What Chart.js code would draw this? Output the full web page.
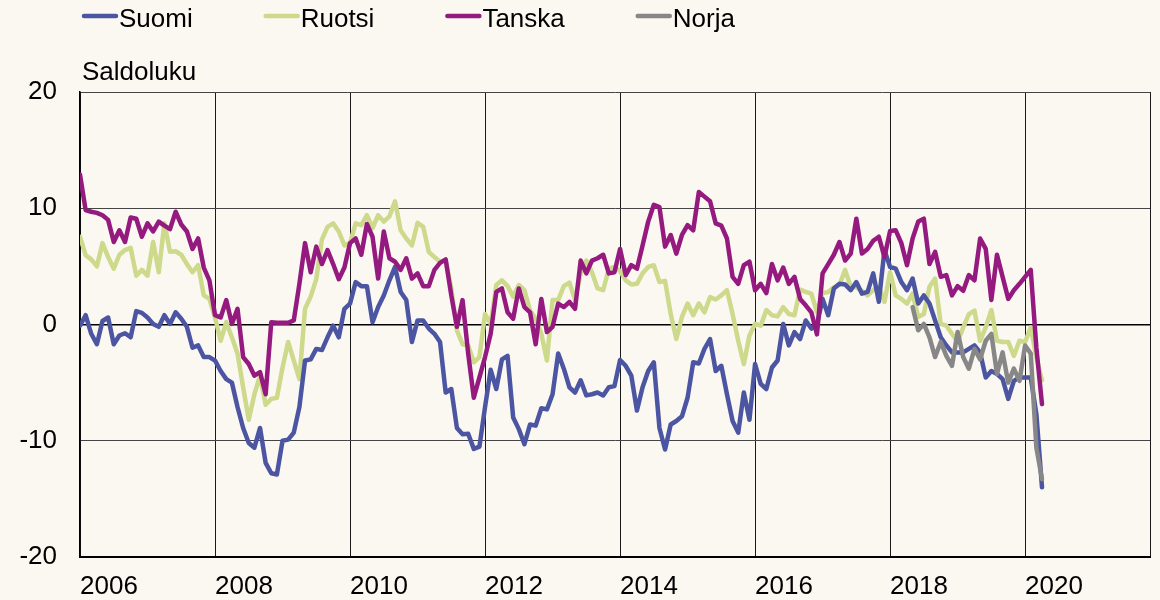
<!DOCTYPE html>
<html>
<head>
<meta charset="utf-8">
<script src="https://cdn.jsdelivr.net/npm/chart.js@4"></script>
<style>
  html, body { margin: 0; padding: 0; background: #fbf7f1; }
  #wrap { width: 1160px; height: 600px; }
</style>
</head>
<body>
<div id="wrap"><canvas id="chart" width="1160" height="600"></canvas></div>
<script>
// Kuukausittaiset saldoluvut, alkaen 2006-01
const startYear = 2006;
const norjaStart = 2018 + 4 / 12; // 2018-05
const xMax = 2021.85;
const xTickYears = [2006, 2008, 2010, 2012, 2014, 2016, 2018, 2020];
const yTicks = [-20, -10, 0, 10, 20];

const suomi = [
  -0.1, 0.8, -0.8, -1.7, 0.3, 0.6, -1.7, -0.95, -0.75, -1.1, 1.15, 1.0,
  0.6, 0.05, -0.2, 0.8, 0.05, 1.05, 0.5, -0.2, -2.0, -1.8, -2.8, -2.8,
  -3.1, -4.0, -4.7, -5.0, -7.1, -8.9, -10.2, -10.6, -8.9, -11.9, -12.8, -12.9,
  -10.0, -9.9, -9.3, -7.1, -3.1, -3.0, -2.1, -2.2, -1.1, -0.1, -1.1, 1.35,
  1.8, 3.65, 3.3, 3.3, 0.2, 1.5, 2.5, 3.8, 4.95, 2.8, 2.1, -1.5,
  0.35, 0.35, -0.35, -0.8, -1.5, -5.85, -5.55, -8.9, -9.45, -9.4, -10.7, -10.5,
  -7.1, -3.9, -5.55, -3.0, -2.7, -8.0, -9.0, -10.3, -8.6, -8.7, -7.2, -7.3,
  -6.0, -2.5, -3.8, -5.4, -5.85, -4.8, -6.1, -6.0, -5.85, -6.1, -5.4, -5.3,
  -3.05, -3.55, -4.4, -7.4, -5.4, -4.0, -3.25, -8.9, -10.75, -8.6, -8.3, -7.9,
  -6.3, -3.25, -3.35, -2.1, -1.25, -4.0, -3.55, -6.0, -8.3, -9.3, -5.85, -8.2,
  -3.4, -5.1, -5.55, -3.7, -3.1, 0.05, -1.8, -0.65, -1.25, 0.35, -0.35, 0.0,
  2.2, 0.8, 3.1, 3.5, 3.45, 2.95, 3.65, 2.65, 2.8, 4.4, 1.95, 6.4,
  4.95, 4.8, 3.65, 2.95, 3.95, 1.8, 2.5, 1.8, 0.35, -1.1, -1.8, -2.4,
  -2.4, -2.4, -2.1, -1.8, -2.4, -4.55, -4.0, -4.25, -4.7, -6.4, -4.85, -4.55,
  -4.55, -4.55, -7.7, -14.0
];

const ruotsi = [
  7.55, 5.97, 5.6, 5.0, 7.0, 5.8, 4.8, 6.0, 6.4, 6.6, 4.2, 4.7,
  4.2, 7.1, 4.5, 8.7, 6.25, 6.3, 6.0, 5.2, 4.5, 5.1, 2.5, 2.2,
  0.6, -1.4, 0.2, -1.1, -2.5, -5.4, -8.2, -6.0, -4.4, -6.9, -6.4, -6.3,
  -3.7, -1.5, -3.1, -4.7, 1.35, 2.4, 3.9, 7.3, 8.4, 8.7, 8.0, 6.8,
  7.0, 8.7, 8.55, 9.4, 8.3, 9.4, 8.85, 9.3, 10.6, 8.1, 7.4, 6.8,
  8.75, 8.4, 6.25, 5.8, 5.4, 5.5, 3.1, -0.5, -1.7, -1.8, -3.25, -2.8,
  0.9, 0.05, 3.4, 3.8, 3.3, 2.4, 3.4, 2.95, 1.2, 0.5, -0.8, -3.1,
  2.1, 2.1, 3.3, 3.6, 2.1, 4.4, 5.5, 4.5, 3.1, 2.95, 4.8, 4.95,
  4.6, 3.8, 3.45, 3.5, 4.4, 4.95, 5.1, 3.65, 3.75, 0.9, -1.25, 0.65,
  1.8, 0.8, 1.8, 1.05, 2.35, 2.15, 2.5, 2.95, 0.9, -1.4, -3.4, -0.95,
  0.05, -0.1, 1.25, 0.8, 0.7, 1.5, 0.9, 0.8, 3.0, 2.8, 2.65, 1.05,
  2.7, 2.8, 3.2, 3.4, 4.7, 3.25, 3.2, 2.9, 2.5, 2.95, 3.25, 1.95,
  4.5, 2.5, 2.2, 1.8, 2.65, 0.65, 0.9, 3.25, 3.95, 0.05, -0.1, -0.8,
  -1.5, -0.25, 0.9, 1.2, -1.4, -0.25, 1.25, -1.4, -1.5, -1.5, -2.7, -1.4,
  -1.5, -0.25, -2.8, -4.8
];

const tanska = [
  12.9, 9.85, 9.7, 9.6, 9.4, 9.0, 7.1, 8.1, 7.1, 9.2, 9.1, 7.55,
  8.7, 8.0, 8.85, 8.5, 8.2, 9.7, 8.6, 8.0, 6.5, 7.4, 4.9, 3.8,
  0.8, 0.6, 2.1, 0.05, 1.35, -2.8, -3.4, -4.4, -4.1, -6.0, 0.2, 0.15,
  0.15, 0.15, 0.35, 3.5, 7.0, 4.5, 6.7, 5.2, 6.4, 5.2, 3.9, 4.9,
  7.0, 7.4, 6.0, 8.65, 7.55, 3.95, 8.0, 5.7, 5.4, 4.7, 5.7, 3.95,
  4.4, 3.3, 3.3, 4.7, 5.3, 5.6, 2.5, -0.2, 2.1, -2.5, -6.3, -4.55,
  -2.8, -0.8, 2.8, 3.1, 1.05, 0.5, 3.1, 1.5, 1.05, -1.7, 2.2, -0.65,
  -0.2, 1.8, 1.5, 1.95, 1.35, 5.5, 4.4, 5.5, 5.7, 6.0, 4.4, 4.5,
  6.5, 4.25, 5.1, 4.8, 6.8, 8.85, 10.3, 10.1, 6.7, 7.7, 6.1, 7.7,
  8.55, 8.1, 11.4, 11.0, 10.6, 8.7, 8.5, 7.4, 4.1, 3.5, 5.1, 5.4,
  2.95, 3.5, 2.7, 5.2, 3.8, 4.9, 3.5, 4.1, 2.2, 1.65, 1.05, -0.85,
  4.4, 5.2, 6.0, 7.1, 5.5, 6.1, 9.1, 6.1, 6.5, 7.2, 7.55, 5.8,
  8.05, 8.1, 7.0, 5.1, 7.4, 8.85, 9.1, 5.2, 6.25, 4.1, 4.25, 2.5,
  3.3, 2.9, 4.25, 3.8, 7.4, 6.5, 2.1, 6.0, 4.1, 2.2, 2.95, 3.5,
  4.1, 4.7, -2.0, -6.85
];

// Norja alkaa 2018-05
const norja = [
  1.5, -0.5, 0.05, -1.1, -2.8, -1.5, -2.7, -3.55,
  -0.65, -2.8, -3.8, -2.1, -3.0, -1.4, -0.8, -4.25, -2.4, -5.0, -3.8, -4.85,
  -1.8, -2.5, -10.6, -13.3
];

const FONT = { family: '"Liberation Sans", Arial, sans-serif', size: 26 };

function toPoints(values, start) {
  return values.map((v, i) => ({ x: start + i / 12, y: v }));
}

// Selite ja y-akselin otsikko yläreunaan
const topLegend = {
  id: 'topLegend',
  afterDraw(chart) {
    const ctx = chart.ctx;
    ctx.save();
    ctx.font = FONT.size + 'px ' + FONT.family;
    ctx.fillStyle = '#000';
    ctx.textBaseline = 'alphabetic';
    let x = 82;
    chart.data.datasets.forEach(ds => {
      ctx.strokeStyle = ds.borderColor;
      ctx.lineWidth = 4.5;
      ctx.lineCap = 'round';
      ctx.beginPath();
      ctx.moveTo(x + 2, 16);
      ctx.lineTo(x + 34, 16);
      ctx.stroke();
      ctx.fillText(ds.label, x + 37, 27);
      x += 37 + ctx.measureText(ds.label).width + 71;
    });
    ctx.fillText('Saldoluku', 82, 80);
    ctx.restore();
  }
};

const line = (label, data, color, order) => ({
  label, data, order,
  borderColor: color,
  borderWidth: 4.5,
  pointRadius: 0,
  borderJoinStyle: 'round',
  borderCapStyle: 'round',
  fill: false,
  tension: 0
});

new Chart(document.getElementById('chart'), {
  type: 'line',
  data: {
    datasets: [
      line('Suomi', toPoints(suomi, startYear), '#4b55a2', 2),
      line('Ruotsi', toPoints(ruotsi, startYear), '#cdd98b', 3),
      line('Tanska', toPoints(tanska, startYear), '#951a7f', 1),
      line('Norja', toPoints(norja, norjaStart), '#878787', 0)
    ]
  },
  options: {
    responsive: false,
    animation: false,
    layout: { padding: { top: 92, right: 10, left: 0, bottom: 0 } },
    plugins: { legend: { display: false }, tooltip: { enabled: false } },
    scales: {
      x: {
        type: 'linear',
        min: startYear,
        max: xMax,
        afterBuildTicks: s => {
          s.ticks = xTickYears.map(v => ({ value: v })).concat([{ value: xMax }]);
        },
        afterFit: s => { s.height = 43; },
        ticks: {
          align: 'start',
          maxRotation: 0,
          autoSkip: false,
          padding: 10,
          color: '#000',
          font: { ...FONT, lineHeight: 1.5 },
          callback: v => (xTickYears.includes(v) ? String(v) : '')
        },
        grid: { color: '#1a1a1a', lineWidth: 1, drawTicks: false },
        border: { color: '#000', width: 2 }
      },
      y: {
        min: -20,
        max: 20,
        afterBuildTicks: s => { s.ticks = yTicks.map(v => ({ value: v })); },
        afterFit: s => { s.width = 80; },
        ticks: { padding: 23, color: '#000', font: FONT },
        grid: {
          drawTicks: false,
          color: c => (c.tick && c.tick.value === 0 ? '#000' : '#444'),
          lineWidth: c => (c.tick && c.tick.value === 0 ? 1.5 : 1)
        },
        border: { color: '#000', width: 1.5 }
      }
    }
  },
  plugins: [topLegend]
});
</script>
</body>
</html>
